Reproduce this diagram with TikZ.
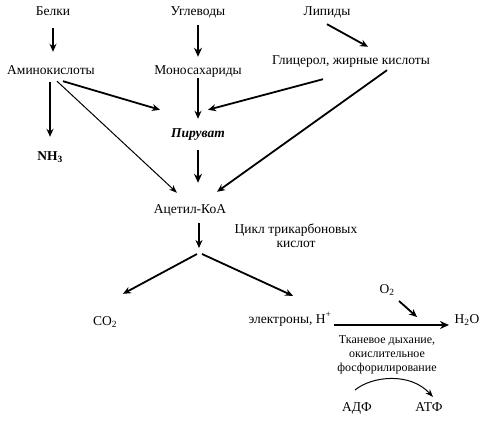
\documentclass[tikz,border=0pt]{standalone}
\usepackage{fontspec}
\setmainfont{Liberation Serif}
\usetikzlibrary{arrows.meta,positioning}

\begin{document}
\begin{tikzpicture}[
    x=1pt,y=-1pt,
    lbl/.style={inner sep=1pt,text height=9pt,text depth=3pt,font=\fontsize{13.5}{14}\selectfont},
    note/.style={inner sep=1pt,align=center,font=\fontsize{12}{14}\selectfont},
    sarr/.style={-{Stealth[length=8pt,width=7pt]},line width=1.8pt},
    barr/.style={-{Stealth[length=9pt,width=8pt]},line width=2.8pt},
    tarr/.style={-{Stealth[length=8pt,width=6pt]},line width=1pt}
    ]
    \useasboundingbox (0,0) rectangle (487,423);
    % sources
    \node[lbl] (belki) at (53,13) {Белки};
    \node[lbl] (ugl) at (198,13) {Углеводы};
    \node[lbl] (lip) at (327,13) {Липиды};
    % monomers
    \node[lbl] (amino) at (51,71) {Аминокислоты};
    \node[lbl] (mono) at (198,71) {Моносахариды};
    \node[lbl] (glyc) at (351,61) {Глицерол, жирные кислоты};
    \node[lbl] (pir) at (198,134) {\textbf{\textit{Пируват}}};
    \node[lbl] (nh3) at (50,157) {\textbf{NH\textsubscript{3}}};
    \node[lbl] (acetyl) at (190,210) {Ацетил-КоА};
    \node[note,font=\fontsize{13.5}{14}\selectfont] (tca) at (296,236) {Цикл трикарбоновых\\кислот};
    \coordinate (fork) at (199,252);
    % products
    \node[lbl] (co2) at (105,322) {CO\textsubscript{2}};
    \node[lbl] (elec) at (290,320) {электроны, H\textsuperscript{+}};
    \node[lbl] (h2o) at (467,320) {H\textsubscript{2}O};
    \node[lbl] (o2) at (387,290) {O\textsubscript{2}};
    \node[note] (tkan) at (387,355) {Тканевое дыхание,\\окислительное\\фосфорилирование};
    \node[lbl] (adf) at (357,408) {АДФ};
    \node[lbl] (atf) at (429,408) {АТФ};

    \draw[sarr] ([yshift=-8pt]belki.south) -- ([xshift=2pt,yshift=12pt]amino.north);
    \draw[barr] ([yshift=-5pt]ugl.south) -- ([yshift=7pt]mono.north);
    \draw[sarr] (mono.south) -- ([yshift=8pt]pir.north);
    \draw[barr] ([yshift=-9pt]pir.south) -- ([xshift=8pt,yshift=20pt]acetyl.north);
    \draw[sarr] ([xshift=-1pt,yshift=-4pt]amino.south) -- ([yshift=13pt]nh3.north);
    \draw[sarr] ([xshift=12pt,yshift=-3pt]amino.south) -- ([xshift=-38pt,yshift=17pt]pir.north);
    \draw[tarr] ([xshift=6pt,yshift=-3pt]amino.south) -- ([xshift=-13pt,yshift=10pt]acetyl.north);
    \draw[sarr] ([yshift=-4pt]lip.south) -- ([xshift=17pt,yshift=7pt]glyc.north);
    \draw[sarr] ([xshift=-28pt,yshift=-11pt]glyc.south) -- ([xshift=10pt,yshift=17pt]pir.north);
    \draw[sarr] ([xshift=36pt,yshift=-2pt]glyc.south) -- ([xshift=27pt,yshift=11pt]acetyl.north);
    \draw[sarr] ([xshift=9pt,yshift=-6pt]acetyl.south) -- ([yshift=4pt]fork);
    \draw[sarr] ([xshift=-2pt,yshift=-2pt]fork) -- ([xshift=18pt,yshift=21pt]co2.north);
    \draw[sarr] ([xshift=3pt,yshift=-2pt]fork) -- ([xshift=3pt,yshift=17pt]elec.north);
    \draw[barr] ([xshift=44pt,yshift=-5pt]elec.center) -- ([xshift=-18pt,yshift=-5pt]h2o.center);
    \draw[sarr] ([xshift=12pt,yshift=-11pt]o2.center) -- ([xshift=30pt,yshift=-27pt]o2.center);
    \draw[tarr] ([xshift=-2pt,yshift=18pt]adf.center) .. controls ([xshift=15pt,yshift=32pt]adf.center) and ([xshift=-19pt,yshift=36pt]atf.center) .. ([xshift=4pt,yshift=11pt]atf.center);
\end{tikzpicture}
\end{document}
